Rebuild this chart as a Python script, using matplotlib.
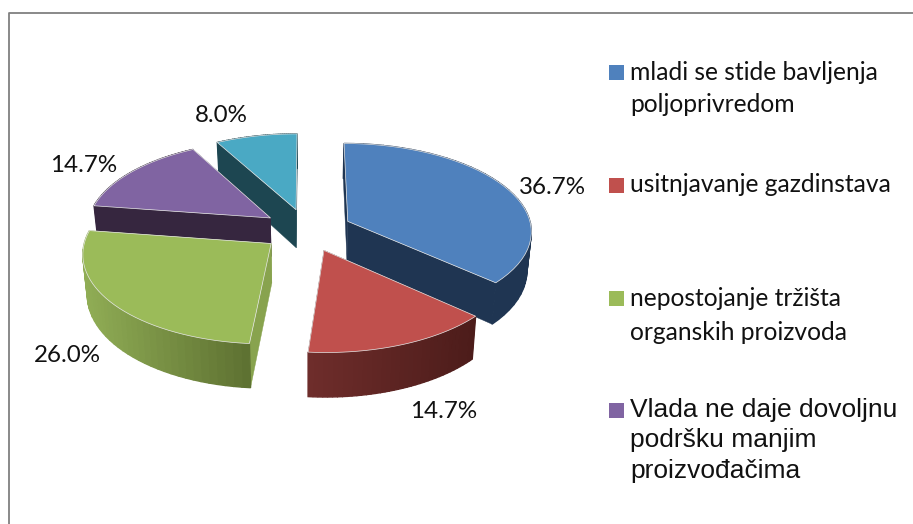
import numpy as np
import matplotlib
matplotlib.use('Agg')
import matplotlib.pyplot as plt
from matplotlib.patches import Polygon, Rectangle

# podaci sa grafikona
values = [36.7, 14.7, 26.0, 14.7, 8.0]
value_labels = ['36.7%', '14.7%', '26.0%', '14.7%', '8.0%']
legend_labels = [
    ['mladi se stide bavljenja', 'poljoprivredom'],
    ['usitnjavanje gazdinstava'],
    ['nepostojanje tržišta', 'organskih proizvoda'],
    ['Vlada ne daje dovoljnu', 'podršku manjim', 'proizvođačima'],
]
top_colors = ['#4f81bd', '#c0504d', '#9bbb59', '#8064a2', '#4aa9c4']
radial_colors = ['#1f3552', '#4e1d1b', '#88a34e', '#36263f', '#1d4651']
arc_left = ['#1f3552', '#6f2d2b', '#90ad55', '#36263f', '#1d4651']
arc_right = ['#1f3552', '#4c1c1a', '#5d7031', '#36263f', '#1d4651']

label_xy = [(552, 188), (444, 411), (67, 356), (84, 165), (221, 116)]
legend_y = [72, 185, 298, 410]
legend_step = [33, 0, 34, 30.5]
legend_font = ['Lato', 'Lato', 'Lato', 'Liberation Sans']
legend_size = [17.7, 17.7, 17.7, 19.0]

# geometrija 3D pite (u pikselima)
CX, CY = 307, 230
A, B = 184, 87.4
PERSP = 0.101
EXPLODE = 0.245
DEPTH = 39
SHRINK = 0.02


def project(u, v, z=0):
    s = 1 / (1 + PERSP * v)
    return CX + A * u * s * (1 - SHRINK * z / DEPTH), CY - B * v * s + z * s


def mix(c1, c2, t):
    c1 = np.array(matplotlib.colors.to_rgb(c1))
    c2 = np.array(matplotlib.colors.to_rgb(c2))
    return c1 + (c2 - c1) * t


fig = plt.figure(figsize=(9.13, 5.24), dpi=100)
ax = fig.add_axes([0, 0, 1, 1])
ax.set_xlim(0, 913)
ax.set_ylim(524, 0)
ax.axis('off')

# okvir, samo gore i levo
ax.plot([8.5, 8.5, 913], [524, 13, 13], color='#808080', lw=1.3)

# uglovi kriski, smer kazaljke od vrha
shares = np.array(values) / sum(values) * 360
ends = np.cumsum(shares)
starts = ends - shares

# crtamo od zadnje ka prednjoj kriski
for i in [4, 3, 2, 0, 1]:
    th = np.radians(np.linspace(starts[i], ends[i], 40))
    mid = np.radians((starts[i] + ends[i]) / 2)
    u0, v0 = EXPLODE * np.sin(mid), EXPLODE * np.cos(mid)
    us = u0 + np.sin(th)
    vs = v0 + np.cos(th)

    apex_top = project(u0, v0)
    apex_bot = project(u0, v0, DEPTH)
    rim_top = np.array([project(u, v) for u, v in zip(us, vs)])
    rim_bot = np.array([project(u, v, DEPTH) for u, v in zip(us, vs)])

    # radijalne strane
    for k in [0, -1]:
        ax.add_patch(Polygon([apex_top, rim_top[k], rim_bot[k], apex_bot],
                             fc=radial_colors[i], ec=radial_colors[i], lw=0.3))

    # spoljna strana, sa prelazom boje
    for k in range(len(th) - 1):
        x_mid = rim_top[k:k + 2, 0].mean()
        t = (x_mid - rim_top[:, 0].min()) / (rim_top[:, 0].max() - rim_top[:, 0].min())
        col = mix(arc_left[i], arc_right[i], t)
        ax.add_patch(Polygon([rim_top[k], rim_top[k + 1], rim_bot[k + 1], rim_bot[k]],
                             fc=col, ec=col, lw=1.0))

    ax.add_patch(Polygon(np.vstack([apex_top, rim_top]), fc=top_colors[i],
                         ec='#e8e8e8', lw=0.5, joinstyle='round'))

    ax.text(label_xy[i][0], label_xy[i][1], value_labels[i], family='Lato',
            fontsize=17.4, color='#111111', ha='center', va='center')

# legenda
for i, lines in enumerate(legend_labels):
    ax.add_patch(Rectangle((609, legend_y[i] - 7.5), 15, 15, fc=top_colors[i], ec='none'))
    for j, line in enumerate(lines):
        ax.text(630.5, legend_y[i] + j * legend_step[i], line, family=legend_font[i],
                fontsize=legend_size[i], color='#111111', ha='left', va='center')

fig.savefig('out.png', dpi=100)
